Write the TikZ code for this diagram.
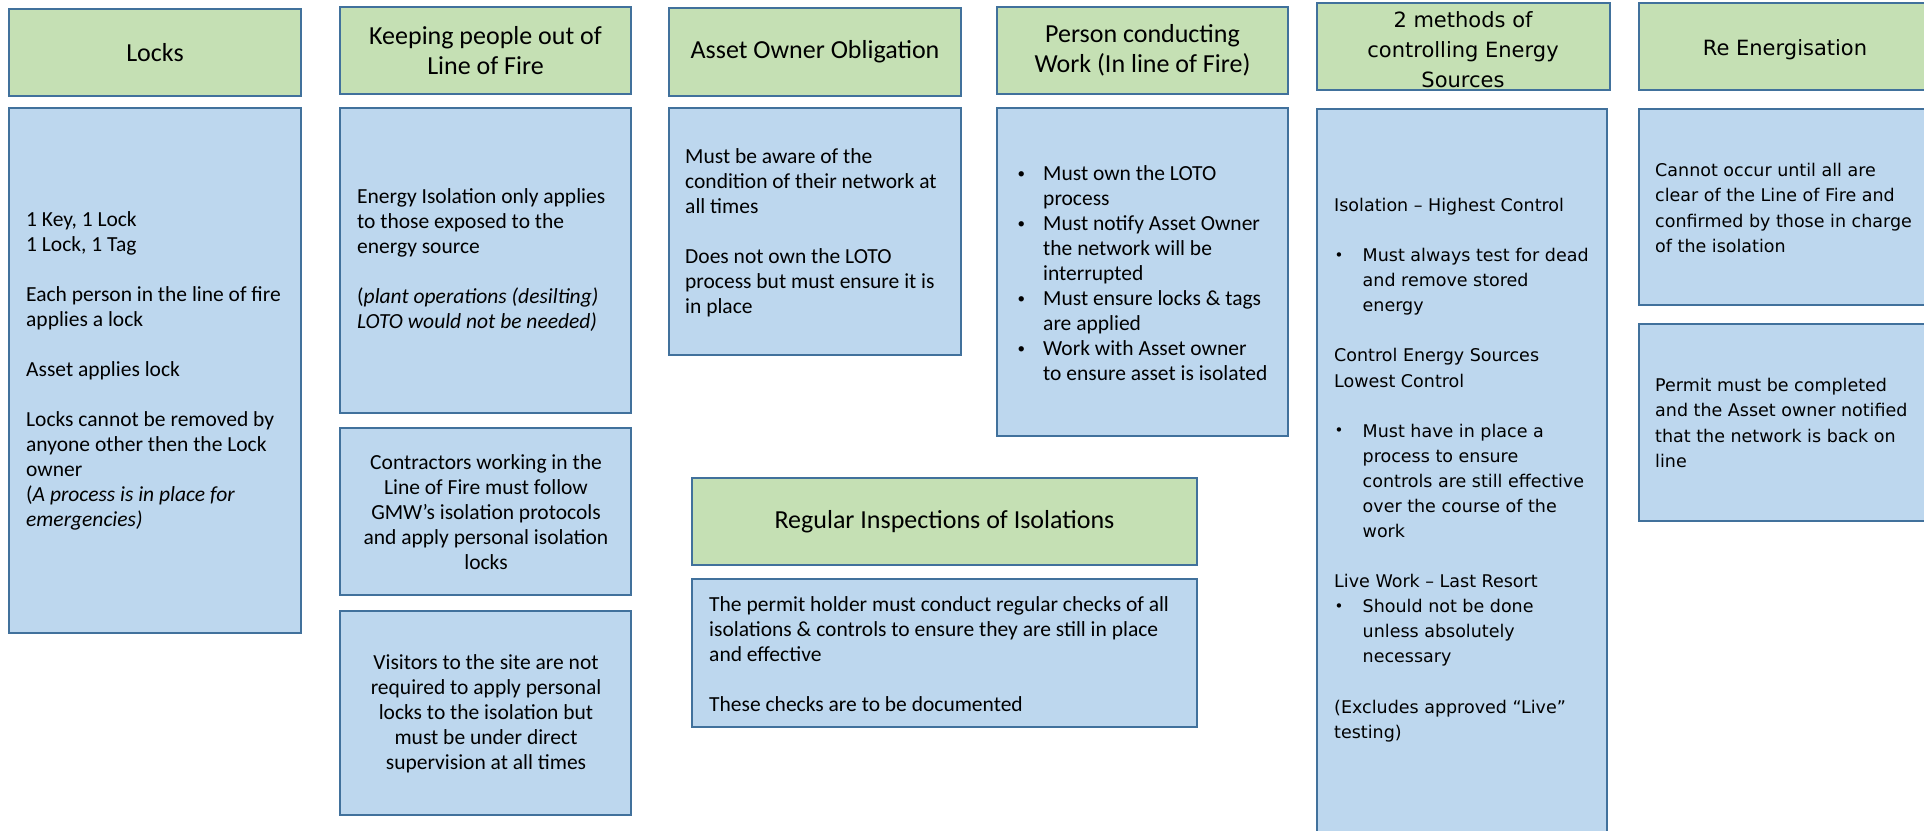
\documentclass[tikz,border=0pt]{standalone}
\usepackage{fontspec}
\setmainfont{Carlito}
\newfontfamily\vfont{DejaVu Sans}
\definecolor{hdrgreen}{HTML}{C5E0B4}
\definecolor{bodyblue}{HTML}{BDD7EE}
\definecolor{edgeblue}{HTML}{41719C}
\tikzset{
  base/.style={draw=edgeblue, line width=2.7pt, inner sep=0pt},
  hdr/.style={base, fill=hdrgreen},
  bod/.style={base, fill=bodyblue},
  ctxt/.style={inner sep=0pt, align=center},
  ltxt/.style={inner sep=0pt, align=left, anchor=west},
  hfont/.style={font=\fontsize{26}{30}\selectfont},
  bfont/.style={font=\fontsize{21.5}{25}\selectfont},
  vhfont/.style={font=\vfont\fontsize{21}{30}\selectfont},
  vbfont/.style={font=\vfont\fontsize{17.5}{25.1}\selectfont},
}
\newcommand\rbox[6]{\node[#2, minimum width={(#5-#3)*1pt}, minimum height={(#6-#4)*1pt}] (#1) at ({(#3+#5)/2},{(#4+#6)/2}) {};}
\newcommand\bul{\makebox[27pt][l]{\hspace*{1.5pt}\raisebox{1.5pt}{\fontsize{15}{15}\selectfont\textbullet}}}
\newcommand\ind{\hspace*{27pt}}
\newcommand\vbul{\makebox[28.5pt][l]{\hspace*{0.5pt}\raisebox{1.5pt}{\fontsize{15}{15}\selectfont\textbullet}}}
\newcommand\vind{\hspace*{28.5pt}}
\begin{document}
\begin{tikzpicture}[x=1pt,y=-1pt]
\useasboundingbox[fill=white] (0,0) rectangle (1924,830);
% headers
\rbox{hLocks}{hdr}{9}{9}{301}{96}
\rbox{hKeep}{hdr}{340}{7}{631}{94}
\rbox{hAsset}{hdr}{669}{8}{961}{96}
\rbox{hPerson}{hdr}{997}{7}{1288}{94}
\rbox{hMeth}{hdr}{1317}{3}{1610}{90}
\rbox{hRe}{hdr}{1639}{3}{1932}{90}
\rbox{hReg}{hdr}{692}{478}{1197}{565}
% bodies
\rbox{bLocks}{bod}{9}{108}{301}{633}
\rbox{bKeep}{bod}{340}{108}{631}{413}
\rbox{bContr}{bod}{340}{428}{631}{595}
\rbox{bVis}{bod}{340}{611}{631}{815}
\rbox{bAsset}{bod}{669}{108}{961}{355}
\rbox{bPerson}{bod}{997}{108}{1288}{436}
\rbox{bMeth}{bod}{1317}{109}{1607}{840}
\rbox{bRe}{bod}{1639}{109}{1932}{305}
\rbox{bPermit}{bod}{1639}{324}{1932}{521}
\rbox{bReg}{bod}{692}{579}{1197}{727}
% header texts
\node[ctxt,hfont] (thLocks) at (hLocks.center) {Locks};
\node[ctxt,hfont] (thKeep) at (hKeep.center) {Keeping people out of\\Line of Fire};
\node[ctxt,hfont] (thAsset) at (hAsset.center) {Asset Owner Obligation};
\node[ctxt,hfont] (thPerson) at (hPerson.center) {Person conducting\\Work (In line of Fire)};
\node[ctxt,vhfont] (thMeth) at (1463,50) {2 methods of\\controlling Energy\\Sources};
\node[ctxt,vhfont] (thRe) at (1785,50) {Re Energisation};
\node[ctxt,hfont] (thReg) at (hReg.center) {Regular Inspections of Isolations};
% body texts
\node[ltxt,bfont] (tLocks) at (26,371) {1 Key, 1 Lock\\1 Lock, 1 Tag\\[25pt]Each person in the line of fire\\applies a lock\\[25pt]Asset applies lock\\[25pt]Locks cannot be removed by\\anyone other then the Lock\\owner\\(\textit{A process is in place for}\\\textit{emergencies)}};
\node[ltxt,bfont] (tKeep) at (357,260) {Energy Isolation only applies\\to those exposed to the\\energy source\\[25pt](\textit{plant operations (desilting)}\\\textit{LOTO would not be needed)}};
\node[ctxt,bfont] (tContr) at (486,512) {Contractors working in the\\Line of Fire must follow\\GMW’s isolation protocols\\and apply personal isolation\\locks};
\node[ctxt,bfont] (tVis) at (486,714) {Visitors to the site are not\\required to apply personal\\locks to the isolation but\\must be under direct\\supervision at all times};
\node[ltxt,bfont] (tAsset) at (685,233) {Must be aware of the\\condition of their network at\\all times\\[25pt]Does not own the LOTO\\process but must ensure it is\\in place};
\node[ltxt,bfont] (tPerson) at (1016,273) {\bul Must own the LOTO\\\ind process\\\bul Must notify Asset Owner\\\ind the network will be\\\ind interrupted\\\bul Must ensure locks \& tags\\\ind are applied\\\bul Work with Asset owner\\\ind to ensure asset is isolated};
\node[ltxt,vbfont] (tMeth) at (1334,470) {Isolation – Highest Control\\[25pt]\vbul Must always test for dead\\\vind and remove stored\\\vind energy\\[25pt]Control Energy Sources\\Lowest Control\\[25pt]\vbul Must have in place a\\\vind process to ensure\\\vind controls are still effective\\\vind over the course of the\\\vind work\\[25pt]Live Work – Last Resort\\\vbul Should not be done\\\vind unless absolutely\\\vind necessary\\[25pt](Excludes approved “Live”\\testing)};
\node[ltxt,vbfont] (tRe) at (1655,208) {Cannot occur until all are\\clear of the Line of Fire and\\confirmed by those in charge\\of the isolation};
\node[ltxt,vbfont] (tPermit) at (1655,423) {Permit must be completed\\and the Asset owner notified\\that the network is back on\\line};
\node[ltxt,bfont] (tReg) at (709,654) {The permit holder must conduct regular checks of all\\isolations \& controls to ensure they are still in place\\and effective\\[25pt]These checks are to be documented};
\end{tikzpicture}
\end{document}
